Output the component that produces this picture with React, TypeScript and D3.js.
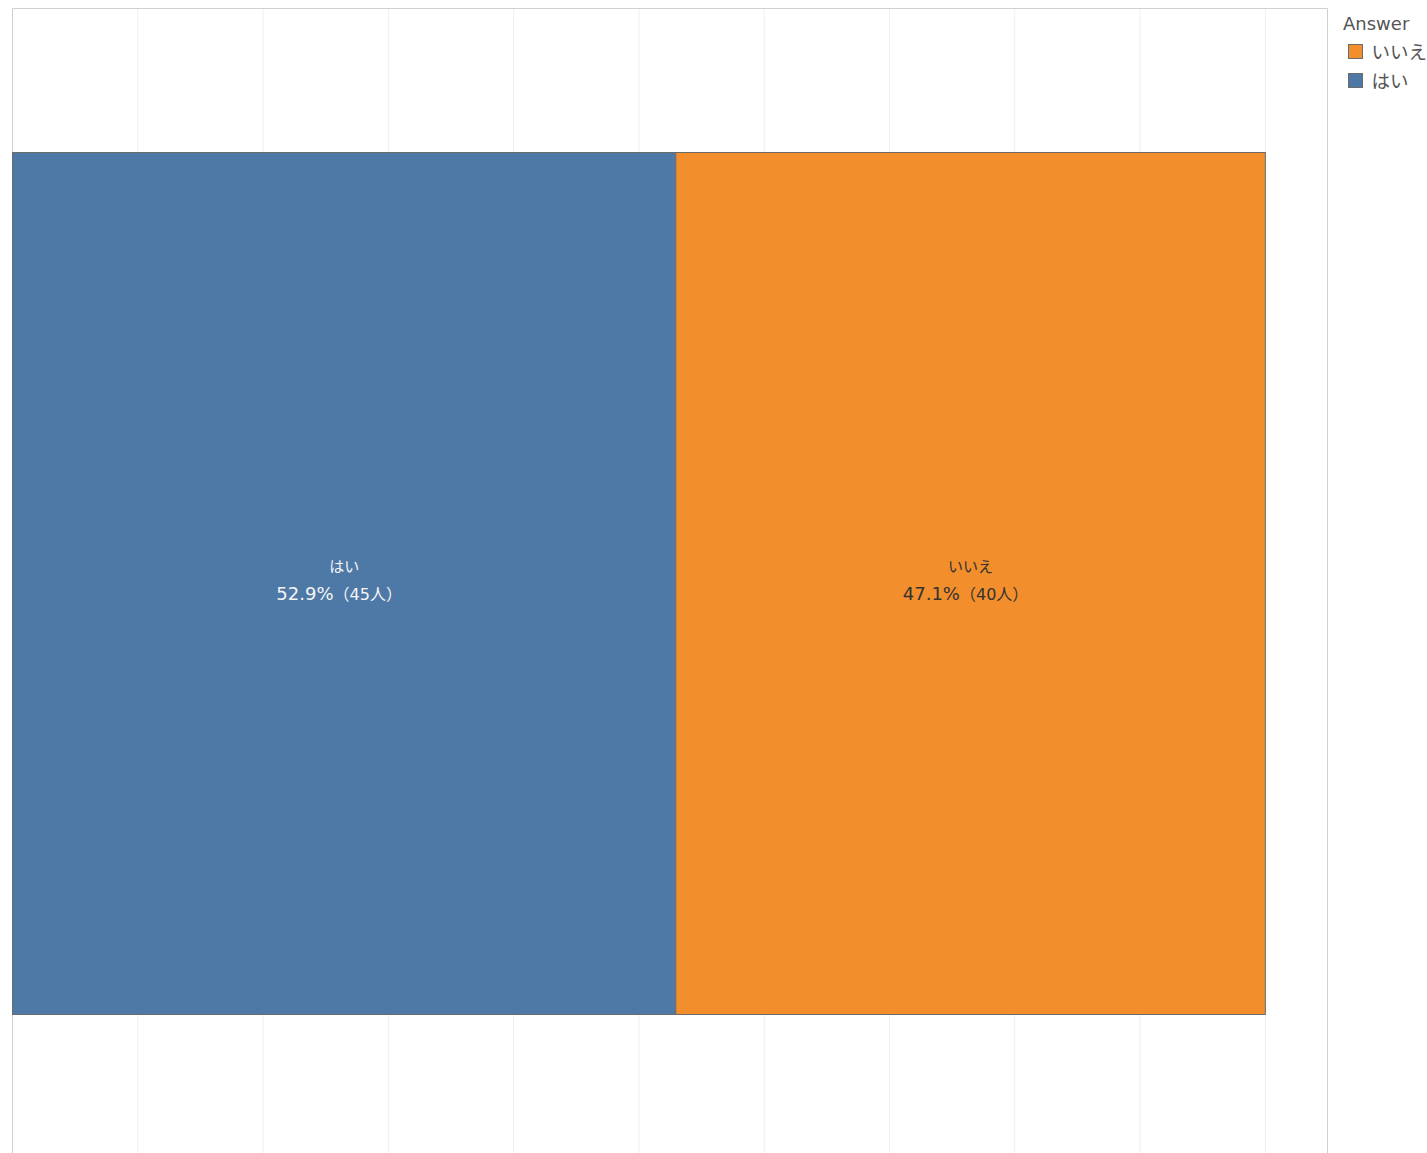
import React from "react";
import * as d3 from "d3";

const answers = ["はい", "いいえ"];
const counts = [45, 40];
const legendOrder = ["いいえ", "はい"];
const tickValues = [0.1, 0.2, 0.3, 0.4, 0.5, 0.6, 0.7, 0.8, 0.9, 1.0];

const W = 1427;
const H = 1153;
const colors: Record<string, string> = { "はい": "#4e79a7", "いいえ": "#f28e2b" };
const textColors: Record<string, string> = { "はい": "#f4f4f4", "いいえ": "#333333" };
const FONT = "'DejaVu Sans', 'Noto Sans CJK JP', sans-serif";

export default function App() {
  const total = d3.sum(counts);
  const left = 12.5, right = 1327.5, top = 8.5;
  const x = d3.scaleLinear().domain([0, 1.0496]).range([left, right]);
  const y = d3.scaleBand().domain(["all"]).range([152.5, 1014.5]).padding(0);
  const bandY = y("all")!;
  const bandH = y.bandwidth();

  let cum = 0;
  const segs = answers.map((a, i) => {
    const share = counts[i] / total;
    const s = { a, x0: x(cum), x1: x(cum + share), share, n: counts[i] };
    cum += share;
    return s;
  });

  return (
    <svg width={W} height={H} style={{ position: "absolute", left: 0, top: 0, background: "#fff" }} fontFamily={FONT}>
      {tickValues.map((t) => (
        <line key={t} x1={x(t)} x2={x(t)} y1={top} y2={H} stroke="#efefef" strokeWidth={1} />
      ))}
      <line x1={left} x2={right} y1={top} y2={top} stroke="#d0d0d0" />
      <line x1={left} x2={left} y1={top} y2={H} stroke="#d0d0d0" />
      <line x1={right} x2={right} y1={top} y2={H} stroke="#d0d0d0" />
      {segs.map((s) => (
        <g key={s.a}>
          <rect x={s.x0} y={bandY} width={s.x1 - s.x0} height={bandH} fill={colors[s.a]} stroke="#6b6b6b" strokeWidth={1} />
          <text x={(s.x0 + s.x1) / 2} y={bandY + bandH / 2 - 12} textAnchor="middle" fontSize={15} fill={textColors[s.a]}>{s.a}</text>
          <text x={(s.x0 + s.x1) / 2 - 5} y={bandY + bandH / 2 + 16} textAnchor="middle" fill={textColors[s.a]}>
            <tspan fontSize={18}>{d3.format(".1%")(s.share)}</tspan>
            <tspan fontSize={16}>{`（${s.n}人）`}</tspan>
          </text>
        </g>
      ))}
      <text x={1343} y={30} fontSize={18} fill="#555">Answer</text>
      {legendOrder.map((a, i) => (
        <g key={a} transform={`translate(1348.5, ${44.5 + i * 29})`}>
          <rect width={14} height={14} fill={colors[a]} stroke="#6b6b6b" />
          <text x={23} y={14} fontSize={18.5} fill="#555">{a}</text>
        </g>
      ))}
    </svg>
  );
}
